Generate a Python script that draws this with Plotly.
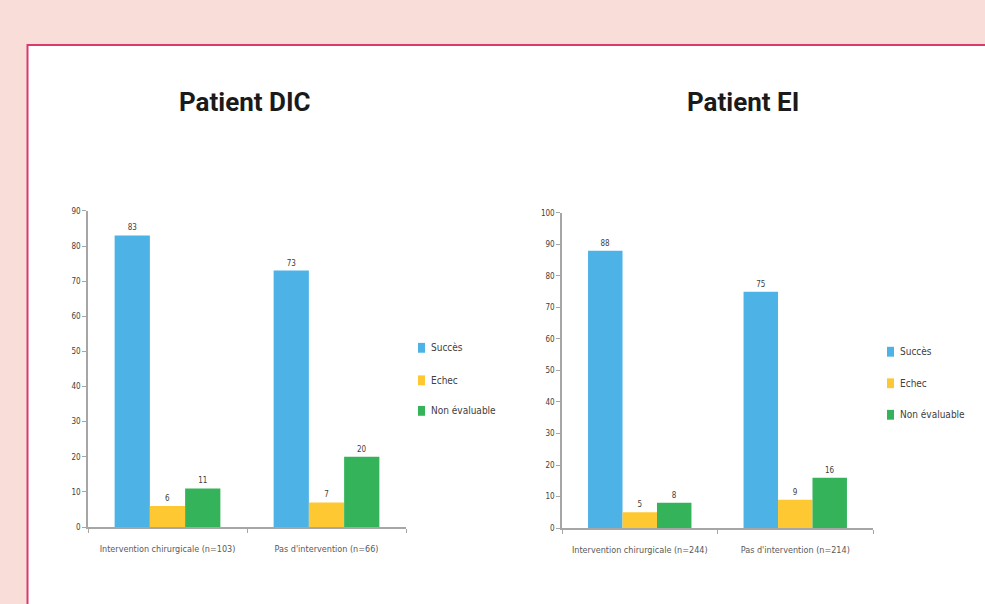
import plotly.graph_objects as go

# ---- data ----
series_names = ["Succès", "Echec", "Non évaluable"]
series_colors = ["#4DB2E5", "#FDC832", "#35B35B"]

dic_title = "Patient DIC"
dic_categories = ["Intervention chirurgicale (n=103)", "Pas d'intervention (n=66)"]
dic_succes = [83, 73]
dic_echec = [6, 7]
dic_non_eval = [11, 20]

ei_title = "Patient EI"
ei_categories = ["Intervention chirurgicale (n=244)", "Pas d'intervention (n=214)"]
ei_succes = [88, 75]
ei_echec = [5, 9]
ei_non_eval = [8, 16]

dic_ticks = list(range(0, 91, 10))
ei_ticks = list(range(0, 101, 10))

W, H = 985, 604
def px(x): return x / W
def py(y): return (H - y) / H

NARROW = "DejaVu Sans Condensed, Liberation Sans Narrow, Arial Narrow, sans-serif"
TITLEFONT = "Roboto, Liberation Sans, Arial, sans-serif"
TICKCOL = "#404040"
AXCOL = "#A6A6A6"

fig = go.Figure()

panels = [
    (dic_categories, [dic_succes, dic_echec, dic_non_eval], "x", "y"),
    (ei_categories, [ei_succes, ei_echec, ei_non_eval], "x2", "y2"),
]
for cats, vals, xa, ya in panels:
    for name, color, v in zip(series_names, series_colors, vals):
        fig.add_trace(go.Bar(
            x=cats, y=v, name=name, marker=dict(color=color, line=dict(width=0)),
            text=v, textposition="outside", cliponaxis=False,
            textfont=dict(family=NARROW, size=8, color=TICKCOL),
            xaxis=xa, yaxis=ya, showlegend=False,
        ))

axis_common = dict(showgrid=False, zeroline=False, showline=True, linecolor=AXCOL,
                   linewidth=1.5, ticks="outside", ticklen=4, tickcolor=AXCOL,
                   tickfont=dict(family=NARROW, size=8, color=TICKCOL))
xaxis_extra = dict(type="category", tickson="boundaries", ticklabelstandoff=12,
                   tickfont=dict(family=NARROW, size=9, color="#595959"))

def xax(domain, anchor):
    d = dict(axis_common)
    d.update(xaxis_extra)
    d.update(domain=domain, anchor=anchor)
    return d

fig.update_layout(
    width=W, height=H, margin=dict(l=0, r=0, t=0, b=0),
    paper_bgcolor="#F8DDD8", plot_bgcolor="rgba(0,0,0,0)",
    bargap=0.335, bargroupgap=0, barmode="group",
    xaxis=xax([px(88), px(406)], "y"),
    yaxis=dict(domain=[py(531), py(210)], anchor="x", range=[0, 90], tickvals=dic_ticks,
               **axis_common),
    xaxis2=xax([px(562), px(873)], "y2"),
    yaxis2=dict(domain=[py(532), py(212)], anchor="x2", range=[0, 100], tickvals=ei_ticks,
                **axis_common),
)

# white framed box
fig.add_shape(type="rect", xref="paper", yref="paper",
              x0=px(27.5), x1=1.2, y0=-0.2, y1=py(41.5),
              fillcolor="white", line=dict(color="#D93A6B", width=2), layer="below")

# titles
for title, cx in [(dic_title, 244.5), (ei_title, 743)]:
    fig.add_annotation(text=title, xref="paper", yref="paper", x=px(cx), y=py(99),
                       xanchor="center", yanchor="middle", showarrow=False,
                       font=dict(family=TITLEFONT, size=26, color="#1A1A1A", weight="bold"))

# legends
for mx, ys in [(418, [349, 382, 413]), (887, [353, 385, 417])]:
    for name, color, yc in zip(series_names, series_colors, ys):
        fig.add_shape(type="rect", xref="paper", yref="paper",
                      x0=px(mx), x1=px(mx + 7), y0=py(yc + 5), y1=py(yc - 5),
                      fillcolor=color, line=dict(width=0))
        fig.add_annotation(text=name, xref="paper", yref="paper", x=px(mx + 11), y=py(yc),
                           xanchor="left", yanchor="middle", showarrow=False,
                           font=dict(family=NARROW, size=10, color=TICKCOL))

fig.write_html("out.html", config={"displayModeBar": False},
               post_script="document.body.style.margin='0';")
